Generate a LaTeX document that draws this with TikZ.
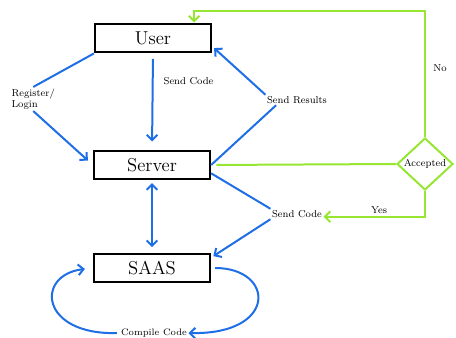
\documentclass[tikz,border=0pt]{standalone}
\usetikzlibrary{shapes.geometric,arrows.meta}
\definecolor{flowblue}{RGB}{30,110,230}
\definecolor{flowgreen}{RGB}{150,230,50}
\tikzset{
  box/.style={draw=black,line width=1.7pt,minimum width=87pt,minimum height=21.5pt,inner sep=0pt,font=\fontsize{14}{16}\selectfont},
  lbl/.style={font=\fontsize{7.5}{8.5}\selectfont,inner sep=1pt},
  blueline/.style={draw=flowblue,line width=1.5pt},
  greenline/.style={draw=flowgreen,line width=1.5pt},
}
\begin{document}
\begin{tikzpicture}[x=0.75pt,y=-0.75pt,>={Straight Barb[length=4pt,width=8pt]}]
\useasboundingbox (0,0) rectangle (456,338);

\node[box] (user) at (153,38) {User};
\node[box] (server) at (152,165) {Server};
\node[box] (saas) at (152,268) {SAAS};
\node[diamond,draw=flowgreen,line width=1.5pt,minimum width=42pt,minimum height=39pt,inner sep=0pt,font=\fontsize{7.5}{8.5}\selectfont] (acc) at (425,164) {Accepted};

\node[lbl,align=left,anchor=west] (reg) at (10,99) {Register/\\Login};
\node[lbl,anchor=west] (sendup) at (162,81) {Send Code};
\node[lbl] (results) at (297,100) {Send Results};
\node[lbl] (senddown) at (297,214) {Send Code};
\node[lbl,font=\fontsize{7}{8}\selectfont] (compile) at (154,333) {Compile Code};
\node[lbl] (no) at (440,68) {No};
\node[lbl] (yes) at (379,210) {Yes};
\coordinate (topy) at (0,11);

\draw[blueline] (user.south west) -- (reg.north);
\draw[blueline,->,shorten >=5pt] (reg.south) -- (server.west);
\draw[blueline,->,shorten <=4pt,shorten >=6pt] (user.south) -- (server.north);
\draw[blueline,->,shorten >=2pt] (results.north west) -- (user.-8);
\draw[blueline] (server.east) -- ([xshift=8pt]results.south west);
\draw[blueline] (server.-8) -- (senddown.north west);
\draw[blueline,->,shorten >=2pt] (senddown.south west) -- (saas.10);
\draw[blueline,<->,shorten <=2pt,shorten >=4pt] (server.south) -- (saas.north);
\draw[blueline,->,shorten <=3pt] (saas.east) .. controls (275,268) and (278,335) .. (compile.east);
\draw[blueline,->,shorten <=2pt,shorten >=6pt] (compile.west) .. controls (40,335) and (35,275) .. (saas.west);

\draw[greenline,shorten <=4pt] (server.east) -- (acc.west);
\draw[greenline,->] (acc.north) -- (acc.north |- topy) -| ([xshift=-13.5pt]user.north east);
\draw[greenline,->] (acc.south) |- ([yshift=-2pt]senddown.east);
\end{tikzpicture}
\end{document}
